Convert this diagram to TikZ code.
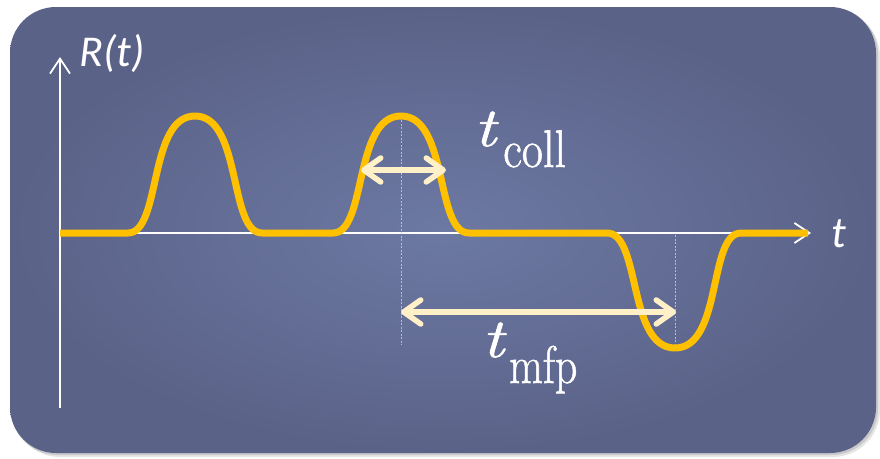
\documentclass[tikz,border=0pt]{standalone}
\usepackage{fontspec}
\usepackage{graphicx}
\usetikzlibrary{arrows.meta}
\newfontfamily\labfont{Carlito}
\newfontfamily\eqfont[FakeBold=1.2]{Latin Modern Roman}
\definecolor{curveY}{HTML}{FFC000}
\definecolor{creamA}{HTML}{FFF0C8}
\definecolor{bgIn}{HTML}{6C79A3}
\definecolor{bgOut}{HTML}{5B6288}
\tikzset{
  axisline/.style={draw=white, line width=1.8pt},
  axtip/.style={-{Straight Barb[length=15pt,width=20pt]}},
  lab/.style={text=white, inner sep=0pt, anchor=base west, font=\labfont\itshape\fontsize{44}{48}\selectfont},
  mathlab/.style={text=white, inner sep=0pt, anchor=base west, font=\eqfont\itshape\fontsize{58}{60}\selectfont},
  sublab/.style={text=white, inner sep=0pt, anchor=base west, font=\eqfont\fontsize{46}{50}\selectfont},
  guide/.style={draw=white!75!bgIn, opacity=0.7, line width=0.9pt, dash pattern=on 2pt off 1.5pt},
  signal/.style={draw=curveY, line width=7pt, line join=round},
  span/.style={draw=creamA, line width=5.5pt, line cap=round,
    {Straight Barb[length=17pt,width=24pt,round]}-{Straight Barb[length=17pt,width=24pt,round]}}
}
\begin{document}
\begin{tikzpicture}[x=1pt,y=-1pt]
\useasboundingbox (0,0) rectangle (880,458);
% panel with shadow
\fill[black, opacity=0.10, rounded corners=47pt] (13,10) rectangle (880,457);
\fill[black, opacity=0.12, rounded corners=46pt] (11,8) rectangle (878,455);
\shade[inner color=bgIn, outer color=bgOut, rounded corners=46pt] (10,7) rectangle (876,453);

% axes
\coordinate (yb) at (60,408);
\coordinate (yt) at (60,57);
\coordinate (xo) at (60,233);
\coordinate (xe) at (811,233);
\draw[axisline, axtip] (yb) -- (yt);
\draw[axisline, axtip] (xo) -- (xe);

% guide lines
\coordinate (g1t) at (401,113);
\coordinate (g1b) at (401,345);
\coordinate (g2t) at (675,235);
\coordinate (g2b) at (675,349);
\draw[guide] (g1t) -- (g1b);
\draw[guide] (g2t) -- (g2b);

% signal
\draw[signal] (60,233) -- (128,233)
  .. controls (161.5,233) and (148,116) .. (195,116)
  .. controls (242,116) and (228.5,233) .. (262,233)
  -- (333,233)
  .. controls (367,233) and (353.4,116) .. (401,116)
  .. controls (448.6,116) and (435,233) .. (469,233)
  -- (607,233)
  .. controls (641,233) and (627.4,348) .. (675,348)
  .. controls (722.6,348) and (708,233) .. (741,233)
  -- (808,233);

% span arrows
\coordinate (c1) at (361,170);
\coordinate (c2) at (446,170);
\coordinate (m1) at (401,312);
\coordinate (m2) at (676,312);
\draw[span] (c1) -- (c2);
\draw[span] (m1) -- (m2);

% labels
\node[lab] (rlab) at (79,66) {R(t)};
\node[lab] (tlab) at (831,247) {t};
\node[mathlab] (tc) at (474,146) {\scalebox{1.15}[0.95]{t}};
\node[sublab] (tcs) at (503,167) {\scalebox{1}[1.15]{coll}};
\node[mathlab] (tm) at (482,357) {\scalebox{1.15}[0.95]{t}};
\node[sublab] (tms) at (509,383) {\scalebox{0.95}[1.15]{mfp}};
\end{tikzpicture}
\end{document}
